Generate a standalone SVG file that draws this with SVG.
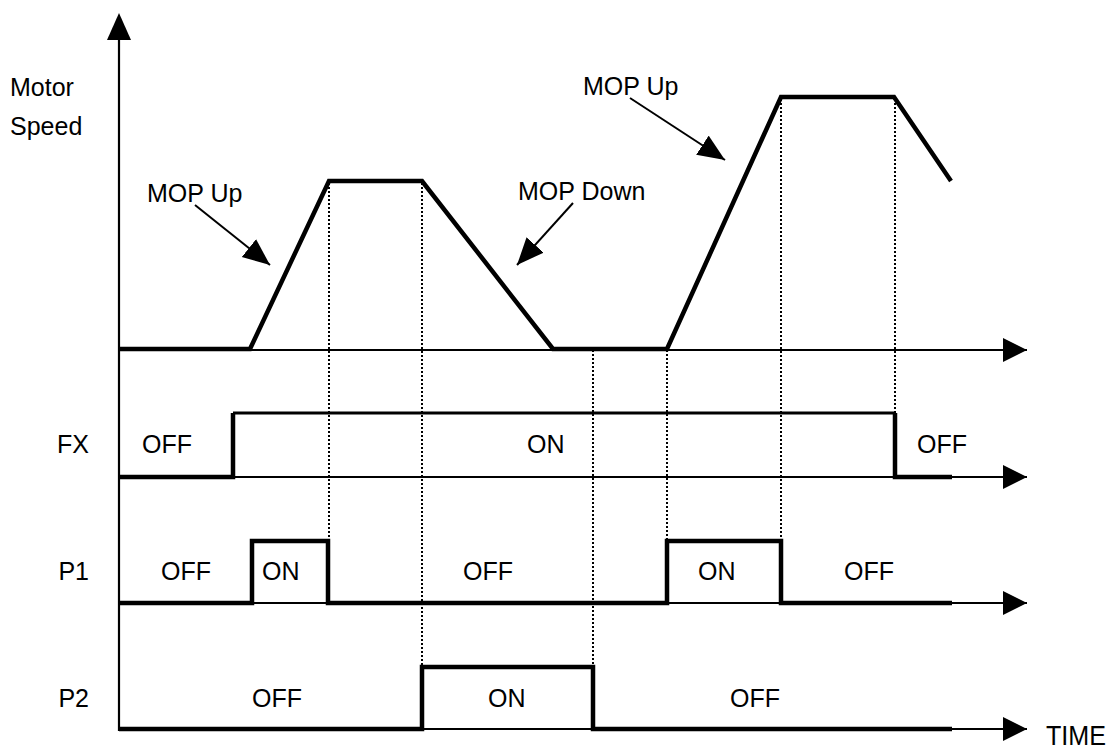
<svg xmlns="http://www.w3.org/2000/svg" width="1119" height="749" viewBox="0 0 1119 749">
<style>
text{font-family:"Liberation Sans",Arial,sans-serif;font-size:25px;fill:#000}
.axis{stroke:#000;stroke-width:2.2;fill:none}
.sig{stroke:#000;stroke-width:4.5;fill:none;stroke-linejoin:miter}
.mid{stroke:#000;stroke-width:3;fill:none}
.dot{stroke:#000;stroke-width:2;stroke-dasharray:2 2;fill:none}
.ptr{stroke:#000;stroke-width:2;fill:none}
</style>
<defs>
<marker id="ah" markerUnits="userSpaceOnUse" markerWidth="26" markerHeight="26" refX="24" refY="12" orient="auto">
<path d="M0,0 L24,12 L0,24 z" fill="#000"/>
</marker>
<marker id="ph" markerUnits="userSpaceOnUse" markerWidth="28" markerHeight="24" refX="27" refY="11.5" orient="auto">
<path d="M0,0 L27,11.5 L0,23 z" fill="#000"/>
</marker>
</defs>
<rect width="1119" height="749" fill="#fff"/>
<g id="axes">
<line class="axis" x1="119" y1="731" x2="119" y2="40"/>
<path d="M119,13 L107,40 L131,40 z" fill="#000"/>
<line class="axis" x1="119" y1="350" x2="1027" y2="350" marker-end="url(#ah)"/>
<line class="axis" x1="119" y1="477" x2="1027" y2="477" marker-end="url(#ah)"/>
<line class="axis" x1="119" y1="603" x2="1027" y2="603" marker-end="url(#ah)"/>
<line class="axis" x1="119" y1="729" x2="1027" y2="729" marker-end="url(#ah)"/>
</g>
<g id="guides">
<line class="dot" x1="329" y1="183" x2="329" y2="541"/>
<line class="dot" x1="422" y1="183" x2="422" y2="667"/>
<line class="dot" x1="593" y1="350" x2="593" y2="667"/>
<line class="dot" x1="667" y1="350" x2="667" y2="541"/>
<line class="dot" x1="781" y1="99" x2="781" y2="541"/>
<line class="dot" x1="895" y1="99" x2="895" y2="413"/>
</g>
<g id="speed">
<path class="sig" d="M119,349 H250 L329,181 H422 L553,349 H667 L781,97 H894 L951,181"/>
<text x="10" y="96">Motor</text>
<text x="10" y="135">Speed</text>
</g>
<g id="fx">
<path class="sig" d="M119,477 H233 V413"/>
<path class="mid" d="M233,413 H895"/>
<path class="sig" d="M895,413 V477 H952"/>
<text x="89" y="453" text-anchor="end">FX</text>
<text x="142" y="453">OFF</text>
<text x="527" y="453">ON</text>
<text x="917" y="453">OFF</text>
</g>
<g id="p1">
<path class="sig" d="M119,603 H252 V541 H328 V603 H667 V541 H781 V603 H952"/>
<text x="89" y="580" text-anchor="end">P1</text>
<text x="161" y="580">OFF</text>
<text x="262" y="580">ON</text>
<text x="463" y="580">OFF</text>
<text x="698" y="580">ON</text>
<text x="844" y="580">OFF</text>
</g>
<g id="p2">
<path class="sig" d="M119,729 H422 V667 H593 V729 H952"/>
<text x="89" y="707" text-anchor="end">P2</text>
<text x="252" y="707">OFF</text>
<text x="488" y="707">ON</text>
<text x="730" y="707">OFF</text>
<text x="1046" y="745" style="font-size:27px" textLength="60" lengthAdjust="spacingAndGlyphs">TIME</text>
</g>
<g id="annotations">
<text x="147" y="202">MOP Up</text>
<text x="518" y="200">MOP Down</text>
<text x="583" y="95">MOP Up</text>
<line class="ptr" x1="195" y1="205" x2="270" y2="265" marker-end="url(#ph)"/>
<line class="ptr" x1="573" y1="203" x2="517" y2="265" marker-end="url(#ph)"/>
<line class="ptr" x1="630" y1="98" x2="725" y2="160" marker-end="url(#ph)"/>
</g>
</svg>
